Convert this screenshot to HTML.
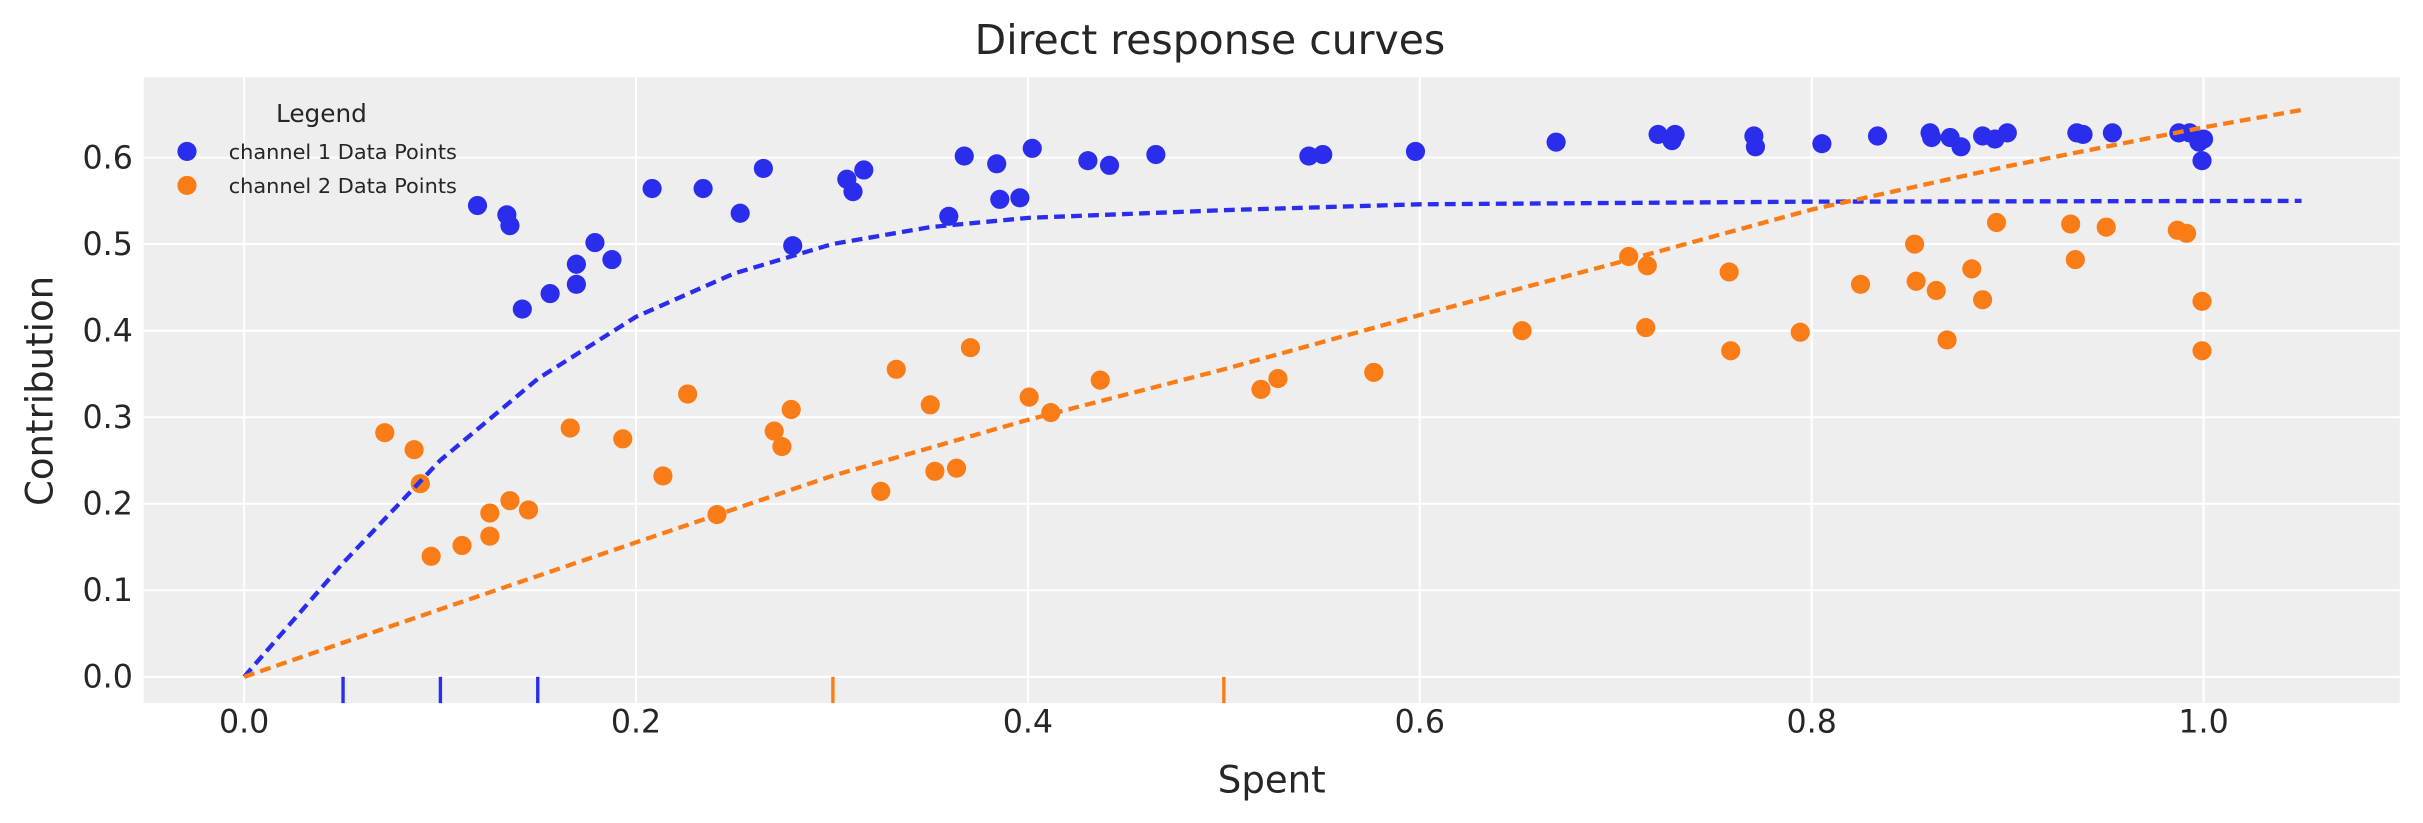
<!DOCTYPE html>
<html><head><meta charset="utf-8"><style>
html,body{margin:0;padding:0;background:#fff;}
svg{display:block;}
text{font-family:"DejaVu Sans","Liberation Sans",sans-serif;fill:#262626;}
</style></head><body>
<svg width="2423" height="823" viewBox="0 0 1568 532.6" preserveAspectRatio="none" xmlns="http://www.w3.org/2000/svg">
<rect x="93" y="50" width="1460" height="405" fill="#eeeeee"/>
<g stroke="#fff" stroke-width="1.3">
<line x1="158" y1="50" x2="158" y2="455"/><line x1="411.6" y1="50" x2="411.6" y2="455"/><line x1="665.2" y1="50" x2="665.2" y2="455"/><line x1="918.8" y1="50" x2="918.8" y2="455"/><line x1="1172.4" y1="50" x2="1172.4" y2="455"/><line x1="1426" y1="50" x2="1426" y2="455"/>
<line x1="93" y1="438" x2="1553" y2="438"/><line x1="93" y1="382" x2="1553" y2="382"/><line x1="93" y1="326" x2="1553" y2="326"/><line x1="93" y1="270" x2="1553" y2="270"/><line x1="93" y1="214" x2="1553" y2="214"/><line x1="93" y1="158" x2="1553" y2="158"/><line x1="93" y1="102" x2="1553" y2="102"/>
</g>
<g font-size="20.5" text-anchor="middle">
<text x="158" y="474">0.0</text><text x="411.6" y="474">0.2</text><text x="665.2" y="474">0.4</text><text x="918.8" y="474">0.6</text><text x="1172.4" y="474">0.8</text><text x="1426" y="474">1.0</text>
</g>
<g font-size="20.5" text-anchor="end">
<text x="86" y="445">0.0</text><text x="86" y="389">0.1</text><text x="86" y="333">0.2</text><text x="86" y="277">0.3</text><text x="86" y="221">0.4</text><text x="86" y="165">0.5</text><text x="86" y="109">0.6</text>
</g>
<text x="823" y="513" font-size="24" text-anchor="middle">Spent</text>
<text x="34" y="253" font-size="24" text-anchor="middle" transform="rotate(-90 34 253)">Contribution</text>
<text x="783" y="35" font-size="26.5" text-anchor="middle">Direct response curves</text>
<g fill="#2a2eec">
<circle cx="309" cy="133" r="6.2"/><circle cx="328" cy="139" r="6.2"/><circle cx="330" cy="146" r="6.2"/><circle cx="338" cy="200" r="6.2"/><circle cx="356" cy="190" r="6.2"/><circle cx="373" cy="171" r="6.2"/><circle cx="373" cy="184" r="6.2"/><circle cx="385" cy="157" r="6.2"/><circle cx="396" cy="168" r="6.2"/><circle cx="422" cy="122" r="6.2"/><circle cx="455" cy="122" r="6.2"/><circle cx="479" cy="138" r="6.2"/><circle cx="494" cy="109" r="6.2"/><circle cx="513" cy="159" r="6.2"/><circle cx="548" cy="116" r="6.2"/><circle cx="552" cy="124" r="6.2"/><circle cx="559" cy="110" r="6.2"/><circle cx="614" cy="140" r="6.2"/><circle cx="624" cy="101" r="6.2"/><circle cx="645" cy="106" r="6.2"/><circle cx="647" cy="129" r="6.2"/><circle cx="660" cy="128" r="6.2"/><circle cx="668" cy="96" r="6.2"/><circle cx="704" cy="104" r="6.2"/><circle cx="718" cy="107" r="6.2"/><circle cx="748" cy="100" r="6.2"/><circle cx="847" cy="101" r="6.2"/><circle cx="856" cy="100" r="6.2"/><circle cx="916" cy="98" r="6.2"/><circle cx="1007" cy="92" r="6.2"/><circle cx="1073" cy="87" r="6.2"/><circle cx="1082" cy="91" r="6.2"/><circle cx="1084" cy="87" r="6.2"/><circle cx="1135" cy="88" r="6.2"/><circle cx="1136" cy="95" r="6.2"/><circle cx="1179" cy="93" r="6.2"/><circle cx="1215" cy="88" r="6.2"/><circle cx="1249" cy="86" r="6.2"/><circle cx="1250" cy="89" r="6.2"/><circle cx="1262" cy="89" r="6.2"/><circle cx="1269" cy="95" r="6.2"/><circle cx="1283" cy="88" r="6.2"/><circle cx="1291" cy="90" r="6.2"/><circle cx="1299" cy="86" r="6.2"/><circle cx="1344" cy="86" r="6.2"/><circle cx="1348" cy="87" r="6.2"/><circle cx="1367" cy="86" r="6.2"/><circle cx="1410" cy="86" r="6.2"/><circle cx="1417" cy="86" r="6.2"/><circle cx="1423" cy="92" r="6.2"/><circle cx="1425" cy="104" r="6.2"/><circle cx="1426" cy="90" r="6.2"/>
</g>
<g fill="#fa7c17">
<circle cx="249" cy="280" r="6.2"/><circle cx="268" cy="291" r="6.2"/><circle cx="272" cy="313" r="6.2"/><circle cx="279" cy="360" r="6.2"/><circle cx="299" cy="353" r="6.2"/><circle cx="317" cy="332" r="6.2"/><circle cx="317" cy="347" r="6.2"/><circle cx="330" cy="324" r="6.2"/><circle cx="342" cy="330" r="6.2"/><circle cx="369" cy="277" r="6.2"/><circle cx="403" cy="284" r="6.2"/><circle cx="429" cy="308" r="6.2"/><circle cx="445" cy="255" r="6.2"/><circle cx="464" cy="333" r="6.2"/><circle cx="501" cy="279" r="6.2"/><circle cx="506" cy="289" r="6.2"/><circle cx="512" cy="265" r="6.2"/><circle cx="570" cy="318" r="6.2"/><circle cx="580" cy="239" r="6.2"/><circle cx="602" cy="262" r="6.2"/><circle cx="605" cy="305" r="6.2"/><circle cx="619" cy="303" r="6.2"/><circle cx="628" cy="225" r="6.2"/><circle cx="666" cy="257" r="6.2"/><circle cx="680" cy="267" r="6.2"/><circle cx="712" cy="246" r="6.2"/><circle cx="816" cy="252" r="6.2"/><circle cx="827" cy="245" r="6.2"/><circle cx="889" cy="241" r="6.2"/><circle cx="985" cy="214" r="6.2"/><circle cx="1054" cy="166" r="6.2"/><circle cx="1065" cy="212" r="6.2"/><circle cx="1066" cy="172" r="6.2"/><circle cx="1119" cy="176" r="6.2"/><circle cx="1120" cy="227" r="6.2"/><circle cx="1165" cy="215" r="6.2"/><circle cx="1204" cy="184" r="6.2"/><circle cx="1239" cy="158" r="6.2"/><circle cx="1240" cy="182" r="6.2"/><circle cx="1253" cy="188" r="6.2"/><circle cx="1260" cy="220" r="6.2"/><circle cx="1276" cy="174" r="6.2"/><circle cx="1283" cy="194" r="6.2"/><circle cx="1292" cy="144" r="6.2"/><circle cx="1340" cy="145" r="6.2"/><circle cx="1343" cy="168" r="6.2"/><circle cx="1363" cy="147" r="6.2"/><circle cx="1409" cy="149" r="6.2"/><circle cx="1415" cy="151" r="6.2"/><circle cx="1425" cy="195" r="6.2"/><circle cx="1425" cy="227" r="6.2"/>
</g>
<polyline fill="none" stroke="#2a2eec" stroke-width="2.8" stroke-dasharray="7,4" points="158,438 221.4,365 284.8,298 348.2,245 411.6,205 475,177 538.4,158 601.8,147 665.2,141 792,136 918.8,132.2 1172.4,130.5 1489.4,130"/>
<polyline fill="none" stroke="#fa7c17" stroke-width="2.8" stroke-dasharray="7,4" points="158,438 284.8,394.3 411.6,351 538.4,308 665.2,271.7 792,239 918.8,203.9 1045.6,170.3 1172.4,135.6 1299.2,107.6 1426,82.4 1489.4,71.2"/>
<g stroke-width="2.2">
<line x1="222" y1="438" x2="222" y2="455" stroke="#2a2eec"/><line x1="285" y1="438" x2="285" y2="455" stroke="#2a2eec"/><line x1="348" y1="438" x2="348" y2="455" stroke="#2a2eec"/>
<line x1="539" y1="438" x2="539" y2="455" stroke="#fa7c17"/><line x1="792" y1="438" x2="792" y2="455" stroke="#fa7c17"/>
</g>
<text x="208" y="79" font-size="16" text-anchor="middle">Legend</text>
<circle cx="121" cy="98" r="6.2" fill="#2a2eec"/>
<circle cx="121" cy="120" r="6.2" fill="#fa7c17"/>
<text x="148" y="103" font-size="13.5">channel 1 Data Points</text>
<text x="148" y="125" font-size="13.5">channel 2 Data Points</text>
</svg>
</body></html>
